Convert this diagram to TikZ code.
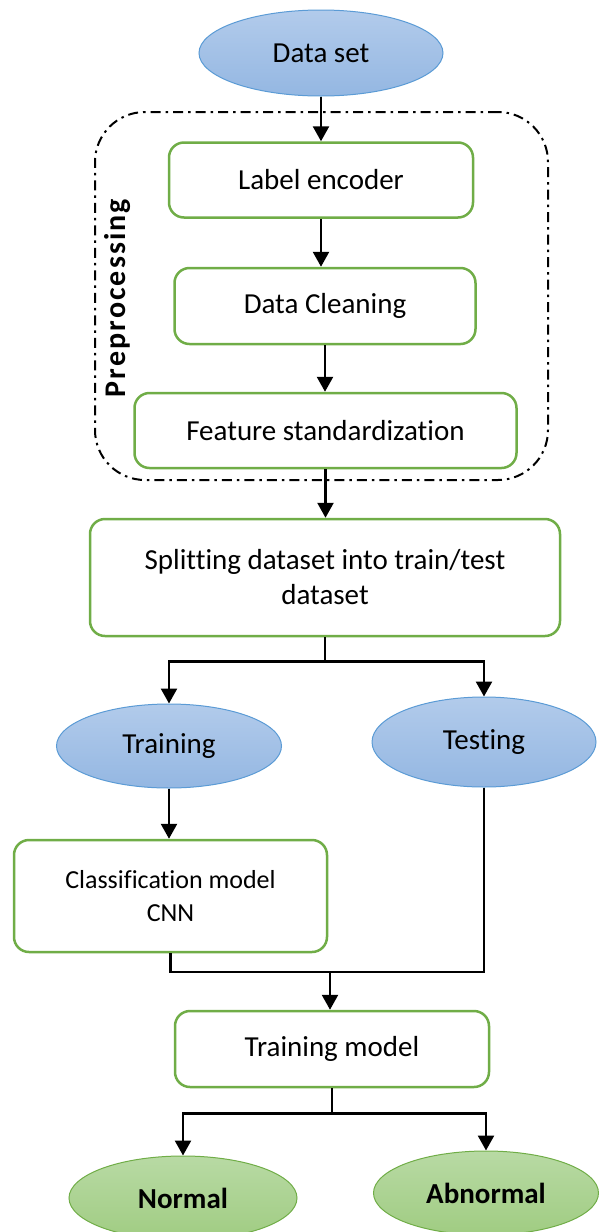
\documentclass[tikz,border=0pt]{standalone}
\usepackage{fontspec}
\setmainfont{Carlito}[Ligatures=NoCommon]
\usetikzlibrary{shapes.geometric,arrows.meta}
\definecolor{bluetop}{RGB}{178,203,235}
\definecolor{bluebot}{RGB}{148,183,226}
\definecolor{blueline}{RGB}{91,155,213}
\definecolor{greentop}{RGB}{184,218,164}
\definecolor{greenbot}{RGB}{160,204,130}
\definecolor{greenline}{RGB}{112,173,71}
\newcommand{\bigtext}{\fontsize{29}{35}\selectfont}
\newcommand{\smalltext}{\fontsize{26}{33}\selectfont}
\tikzset{
  blueblob/.style={ellipse, draw=blueline, line width=1pt, top color=bluetop, bottom color=bluebot, inner sep=0pt, font=\bigtext},
  greenblob/.style={ellipse, draw=greenline, line width=1pt, top color=greentop, bottom color=greenbot, inner sep=0pt, font=\bigtext\bfseries},
  stepbox/.style={draw=greenline, line width=2.5pt, rounded corners=15pt, fill=white, align=center, inner sep=0pt, font=\bigtext},
  prepbox/.style={draw, line width=2pt, rounded corners=50pt, dash pattern=on 10pt off 5pt on 2.5pt off 5pt},
  arrowline/.style={line width=2.5pt, -{Triangle[width=16pt,length=15pt]}},
  plainline/.style={line width=2.5pt},
}

\begin{document}
\begin{tikzpicture}[x=1pt,y=-1pt]
\useasboundingbox (0,0) rectangle (598,1232);
\node[prepbox, minimum width=453pt, minimum height=368pt] (prep) at (321.5,296) {};
\node[rotate=90, font=\fontsize{30}{36}\selectfont\bfseries\addfontfeature{LetterSpace=7}] (preplabel) at (118,298) {Preprocessing};
\node[blueblob, minimum width=244pt, minimum height=86pt] (dataset) at (321,53) {Data set};
\node[stepbox, minimum width=304pt, minimum height=75pt] (enc) at (321,180) {Label encoder};
\node[stepbox, minimum width=301pt, minimum height=76pt] (clean) at (325,306) {Data Cleaning};
\node[stepbox, minimum width=382pt, minimum height=75pt] (feat) at (325.5,430.5) {Feature standardization};
\node[stepbox, minimum width=470pt, minimum height=117pt] (split) at (325,577.5) {Splitting dataset into train/test\\dataset};
\node[blueblob, minimum width=225pt, minimum height=84pt] (train) at (169,746) {Training};
\node[blueblob, minimum width=224pt, minimum height=90pt] (test) at (484,742) {Testing};
\node[stepbox, font=\smalltext, minimum width=313pt, minimum height=112pt] (cls) at (170.5,896) {Classification model\\CNN};
\node[stepbox, minimum width=314pt, minimum height=76pt] (tm) at (332,1049) {Training model};
\node[greenblob, minimum width=228pt, minimum height=84pt] (normal) at (183,1198) {Normal};
\node[greenblob, minimum width=225pt, minimum height=84pt] (abnormal) at (486,1193) {Abnormal};
\coordinate (merge) at (330,972);
\draw[arrowline] (dataset) -- (enc);
\draw[arrowline] (enc.south) -- (enc.south |- clean.north);
\draw[arrowline] (clean.south) -- (clean.south |- feat.north);
\draw[arrowline] (feat.south) -- (feat.south |- split.north);
\draw[arrowline] (split.south) -- ++(0,24) -| (train.north);
\draw[arrowline] (split.south) -- ++(0,24) -| (test.north);
\draw[arrowline] (train.south) -- (train.south |- cls.north);
\draw[plainline] (cls.south) |- (merge);
\draw[plainline] (test.south) |- (merge);
\draw[arrowline] (merge) -- (merge |- tm.north);
\draw[arrowline] (tm.south) -- ++(0,25) -| (normal.north);
\draw[arrowline] (tm.south) -- ++(0,25) -| (abnormal.north);
\end{tikzpicture}
\end{document}
